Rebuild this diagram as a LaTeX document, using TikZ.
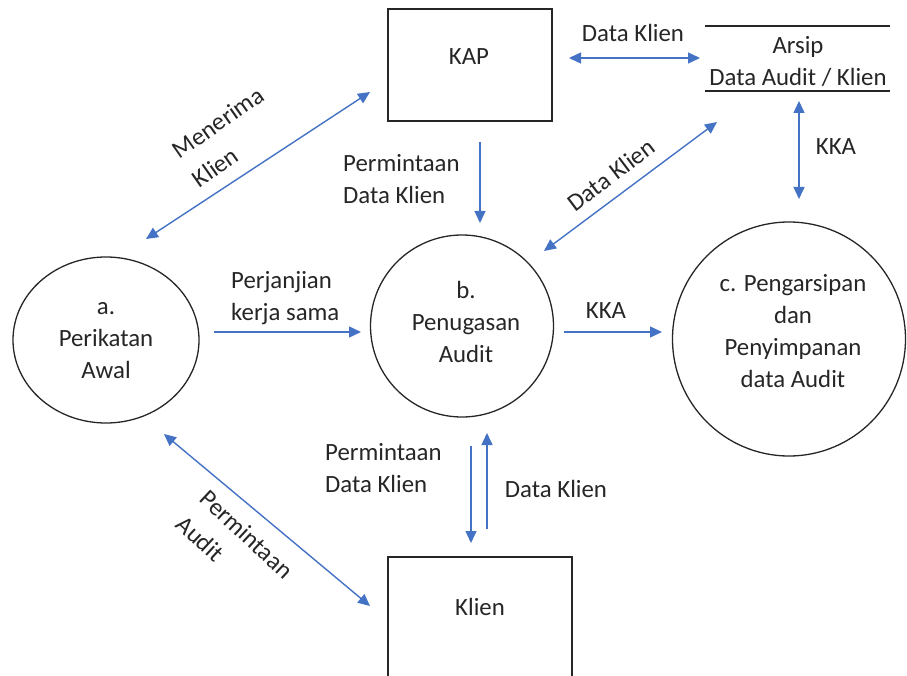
\documentclass[tikz,border=0pt]{standalone}
\usepackage{fontspec}
\setmainfont{Carlito}
\usetikzlibrary{arrows.meta,shapes.geometric}
\definecolor{flow}{RGB}{68,114,196}
\begin{document}
\begin{tikzpicture}[x=1pt,y=-1pt,
  every node/.style={font=\fontsize{24.8}{32}\selectfont, text=black!85},
  proc/.style={draw=black!85, line width=1.3pt, ellipse, inner sep=0pt},
  ent/.style={draw=black!85, line width=1.3pt, rectangle, inner sep=0pt},
  lbl/.style={inner sep=0pt, align=left},
  rlbl/.style={inner sep=0pt, align=left, font=\fontsize{24.8}{35}\selectfont},
  flw/.style={draw=flow, line width=1.4pt, -{Triangle[length=12pt,width=11pt]}},
  bflw/.style={draw=flow, line width=1.4pt, {Triangle[length=12pt,width=11pt]}-{Triangle[length=12pt,width=11pt]}}]
\useasboundingbox (0,0) rectangle (907,676);
% entities
\node[ent, minimum width=164pt, minimum height=112pt] (kap) at (470,65) {};
\node at (469,57) {KAP};
\node[ent, minimum width=184pt, minimum height=160pt] (klien) at (480,637) {};
\node at (480,607) {Klien};
% processes
\node[proc, minimum width=186pt, minimum height=166pt] (pa) at (106,340) {};
\node[align=center, inner sep=0pt] (ta) at (106,341) {a.\\Perikatan\\Awal};
\node[proc, minimum width=183pt, minimum height=182pt] (pb) at (462,326) {};
\node[align=center, inner sep=0pt] (tb) at (466,322) {b.\\Penugasan\\Audit};
\node[proc, minimum width=233pt, minimum height=234pt] (pc) at (789,339) {};
\node[align=center, inner sep=0pt] (tc) at (793,331) {c. Pengarsipan\\dan\\Penyimpanan\\data Audit};
% data store
\coordinate (s1) at (705,26);
\coordinate (s2) at (890,26);
\coordinate (s3) at (705,91);
\coordinate (s4) at (890,91);
\draw[line width=1.3pt, black!85] (s1) -- (s2);
\draw[line width=1.3pt, black!85] (s3) -- (s4);
\node[align=center, inner sep=0pt] (arsip) at (798,61) {Arsip\\Data Audit / Klien};
% flow endpoints
\coordinate (m1) at (146,239);
\coordinate (m2) at (370,92);
\coordinate (d1) at (569,58);
\coordinate (d2) at (700,58);
\coordinate (k1) at (799,101);
\coordinate (k2) at (799,199);
\coordinate (p1) at (480,142);
\coordinate (p2) at (480,223);
\coordinate (g1) at (544,251);
\coordinate (g2) at (717,122);
\coordinate (j1) at (214,332);
\coordinate (j2) at (361,332);
\coordinate (h1) at (564,332);
\coordinate (h2) at (662,332);
\coordinate (q1) at (164,434);
\coordinate (q2) at (370,606);
\coordinate (v1) at (471,446);
\coordinate (v2) at (471,543);
\coordinate (u1) at (487,529);
\coordinate (u2) at (487,433);
% flows
\draw[bflw] (m1) -- (m2);
\draw[bflw] (d1) -- (d2);
\draw[bflw] (k1) -- (k2);
\draw[flw] (p1) -- (p2);
\draw[bflw] (g1) -- (g2);
\draw[flw] (j1) -- (j2);
\draw[flw] (h1) -- (h2);
\draw[bflw] (q1) -- (q2);
\draw[flw] (v1) -- (v2);
\draw[flw] (u1) -- (u2);
% labels
\node[rlbl, rotate=35] (lm) at (228,137) {Menerima\\Klien};
\node[lbl] (ld) at (633,33) {Data Klien};
\node[lbl] (lk) at (836,147) {KKA};
\node[lbl, anchor=west] (lp) at (343,179) {Permintaan\\Data Klien};
\node[lbl, rotate=37] (lg) at (611,175) {Data Klien};
\node[lbl, anchor=west] (lj) at (231,298) {Perjanjian\\kerja sama};
\node[lbl] (lh) at (606,311) {KKA};
\node[rlbl, rotate=-43] (lq) at (235,547) {Permintaan\\Audit};
\node[lbl, anchor=west] (lr) at (325,468) {Permintaan\\Data Klien};
\node[lbl] (ls) at (556,489) {Data Klien};
\end{tikzpicture}
\end{document}
